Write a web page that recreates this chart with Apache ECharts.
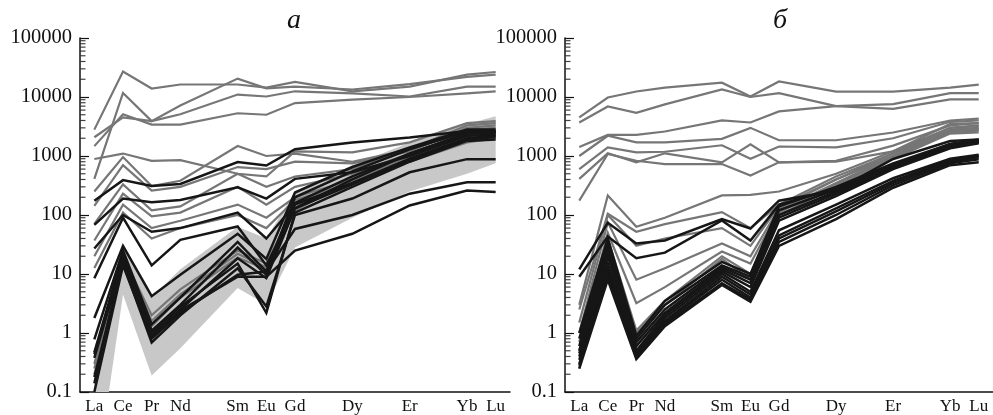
<!DOCTYPE html>
<html>
<head>
<meta charset="utf-8">
<script src="https://cdn.jsdelivr.net/npm/echarts@6/dist/echarts.min.js"></script>
<style>
  html, body { margin: 0; padding: 0; background: #fff; }
  #chart { width: 993px; height: 415px; }
</style>
</head>
<body>
<div id="chart"></div>
<script>
// x slots follow atomic number La..Lu; Pm, Tb, Ho, Tm keep their place but get no label
const slots = ["La", "Ce", "Pr", "Nd", "Pm", "Sm", "Eu", "Gd", "Tb", "Dy", "Ho", "Er", "Tm", "Yb", "Lu"];
const unlabeled = ["Pm", "Tb", "Ho", "Tm"];
const elements = ["La", "Ce", "Pr", "Nd", "Sm", "Eu", "Gd", "Dy", "Er", "Yb", "Lu"];
const panelTitles = ["а", "б"];
const minorSteps = [2, 3, 4, 5, 6, 7, 8, 9];
const decades = [0.1, 1, 10, 100, 1000, 10000];

// panel а — grey samples (La Ce Pr Nd Sm Eu Gd Dy Er Yb Lu)
const aGrey = [
  [2800, 27000, 13900, 16300, 16300, 14400, 18000, 12500, 15000, 24000, 26500],
  [410, 11700, 3900, 7200, 20500, 14000, 15000, 13400, 16500, 22000, 24000],
  [2080, 4500, 3900, 5100, 11000, 10200, 12500, 11500, 10200, 15000, 15000],
  [1470, 5100, 3400, 3400, 5300, 5000, 7900, 9000, 10000, 11500, 12500],
  [890, 1100, 830, 850, 500, 450, 1200, 1150, 1700, 3600, 3900],
  [250, 960, 310, 380, 1480, 1000, 1100, 800, 1300, 3300, 3600],
  [143, 700, 260, 300, 650, 600, 800, 750, 1200, 3000, 3300],
  [71, 330, 120, 140, 500, 300, 450, 600, 1300, 2800, 3000],
  [37, 230, 95, 110, 300, 150, 300, 500, 1100, 2500, 2700],
  [20, 150, 60, 80, 150, 90, 200, 400, 900, 2000, 2300],
  [12.6, 110, 40, 60, 100, 60, 180, 350, 800, 1700, 2000],
  [0.3, 20, 2.0, 5.5, 25, 15, 150, 450, 1100, 2400, 2600],
  [0.25, 18, 1.6, 4.5, 22, 13, 130, 400, 1000, 2300, 2500],
  [0.2, 15, 1.3, 4, 19, 12, 120, 380, 950, 2100, 2400]
];
// panel а — black samples
const aBlack = [
  [175, 390, 310, 335, 790, 690, 1300, 1700, 2050, 2650, 2650],
  [68, 190, 165, 180, 295, 190, 410, 530, 1000, 2200, 2300],
  [27, 100, 52, 60, 110, 40, 150, 350, 900, 2000, 2200],
  [8.5, 90, 14, 38, 64, 14, 130, 400, 1100, 2400, 2500],
  [1.8, 30, 4.2, 9.7, 48, 18, 240, 650, 1400, 2800, 2800],
  [0.78, 25, 1.4, 4, 35, 11, 200, 550, 1300, 2600, 2600],
  [0.47, 22, 1.1, 3, 28, 9.7, 160, 450, 1100, 2400, 2500],
  [0.38, 18, 0.9, 2.5, 18.5, 8.5, 130, 330, 850, 1900, 2100],
  [0.18, 15, 0.69, 2, 12.5, 2.8, 100, 190, 530, 885, 885],
  [0.1, 14, 0.8, 2.2, 9.7, 11, 58, 100, 230, 360, 360],
  [0.14, 20, 1.0, 2.8, 15, 2.2, 110, 300, 800, 1800, 1900],
  [0.44, 17, 0.85, 2.4, 9, 9, 25, 48, 145, 260, 245]
];
// panel а — shaded field, upper and lower edge
const aFieldTop = [0.2, 30, 4, 12, 63, 40, 250, 700, 1700, 3500, 4700];
const aFieldBottom = [0.002, 4.5, 0.19, 0.55, 5.8, 3, 28, 90, 250, 500, 750];

// panel б — grey samples
const bGrey = [
  [4500, 9800, 12400, 14400, 17500, 10200, 18300, 12300, 12300, 14400, 16200],
  [3700, 6900, 5400, 7500, 13400, 10000, 11600, 7000, 6300, 9100, 9100],
  [1420, 2280, 2280, 2600, 4000, 3700, 5700, 7000, 7600, 11600, 11600],
  [1000, 2200, 1700, 1700, 1950, 3000, 1850, 1850, 2500, 4000, 4300],
  [600, 1400, 1150, 1180, 1520, 900, 1450, 1400, 2000, 3800, 4000],
  [410, 1110, 780, 1110, 780, 1580, 780, 830, 1500, 3300, 3600],
  [175, 1080, 830, 730, 730, 465, 780, 800, 1200, 3000, 3300],
  [3, 215, 63, 90, 215, 220, 250, 500, 1200, 3500, 3600],
  [2.5, 105, 52, 70, 112, 60, 150, 450, 1100, 3000, 3200],
  [1.5, 100, 30, 40, 60, 30, 140, 400, 1000, 2800, 3000],
  [1.0, 75, 8, 12.5, 33, 20, 130, 400, 1100, 2700, 2900],
  [0.7, 50, 3.2, 6, 24, 15, 120, 350, 1000, 2600, 2800],
  [0.5, 40, 1.1, 3.5, 20, 10, 110, 330, 950, 2500, 2700],
  [0.25, 30, 1.0, 3, 18, 8, 100, 300, 900, 2400, 2500]
];
// panel б — black samples
const bBlack = [
  [12, 74, 33, 37, 85, 59, 175, 260, 890, 1800, 1900],
  [9, 43, 18.5, 23, 81, 37, 150, 280, 700, 1600, 1800],
  [1.0, 40, 0.9, 3.5, 16, 10, 140, 300, 750, 1600, 1900],
  [0.8, 35, 0.8, 3, 14, 9, 120, 270, 700, 1500, 1800],
  [0.6, 30, 0.7, 2.5, 13, 8, 100, 250, 650, 1450, 1750],
  [0.5, 25, 0.6, 2.2, 12, 7, 90, 230, 620, 1400, 1700],
  [0.4, 20, 0.5, 2, 11, 6, 80, 210, 600, 1350, 1650],
  [0.45, 15, 0.45, 1.8, 10, 5, 55, 150, 420, 900, 1050],
  [0.35, 12, 0.42, 1.6, 9, 4.5, 45, 130, 380, 850, 1000],
  [0.3, 10, 0.4, 1.5, 8, 4, 40, 115, 350, 800, 950],
  [0.28, 9, 0.38, 1.4, 7, 3.7, 35, 100, 320, 750, 880],
  [0.25, 8, 0.36, 1.3, 6.5, 3.4, 30, 85, 290, 700, 780]
];

const FONT = '"Liberation Serif", "DejaVu Serif", serif';
const pos = elements.map(e => slots.indexOf(e));
const minorTicks = [];
decades.forEach(d => minorSteps.forEach(s => minorTicks.push(+(d * s).toPrecision(3))));

function lines(rows, color, width, g, z) {
  return rows.map(r => ({
    type: "line",
    xAxisIndex: g,
    yAxisIndex: g,
    data: r.map((v, i) => [pos[i], v]),
    symbol: "none",
    silent: true,
    z: z,
    lineStyle: { color: color, width: width, join: "miter" }
  }));
}

function field(top, bottom, g) {
  return {
    type: "custom",
    xAxisIndex: g,
    yAxisIndex: g,
    clip: true,
    silent: true,
    z: 1,
    data: [[0, 1]],
    renderItem: function (params, api) {
      const up = top.map((v, i) => api.coord([pos[i], v]));
      const down = bottom.map((v, i) => api.coord([pos[i], v])).reverse();
      return {
        type: "polygon",
        shape: { points: up.concat(down) },
        style: { fill: "#c8c8c8" }
      };
    }
  };
}

function minorTickSeries(g) {
  return {
    type: "scatter",
    xAxisIndex: g + 2,
    yAxisIndex: g,
    data: minorTicks.map(v => [0, v]),
    symbol: "rect",
    symbolSize: [5, 1.2],
    symbolOffset: [3, 0],
    silent: true,
    z: 6,
    itemStyle: { color: "#111" }
  };
}

const grids = [
  { left: 80, top: 38, width: 430, height: 356 },
  { left: 565, top: 38, width: 430, height: 356 }
];

const catAxis = g => ({
  type: "category",
  gridIndex: g,
  data: slots,
  boundaryGap: true,
  axisLine: { onZero: false, lineStyle: { color: "#111", width: 1.5 } },
  axisTick: { inside: true, length: 7, interval: 0, lineStyle: { color: "#111", width: 1.2 } },
  axisLabel: {
    interval: 0,
    margin: 6,
    color: "#111",
    fontFamily: FONT,
    fontSize: 17,
    formatter: v => (unlabeled.includes(v) ? "" : v)
  },
  splitLine: { show: false }
});

const tickAxis = g => ({ type: "value", gridIndex: g, min: 0, max: 1, show: false });

const logAxis = g => ({
  type: "log",
  logBase: 10,
  gridIndex: g,
  min: 0.1,
  max: 100000,
  splitNumber: 6,
  axisLine: { show: true, onZero: false, lineStyle: { color: "#111", width: 1.5 } },
  axisTick: { inside: true, length: 9, lineStyle: { color: "#111", width: 1.2 } },
  axisLabel: {
    margin: 8,
    color: "#111",
    fontFamily: FONT,
    fontSize: 20.5,
    formatter: v => (v >= 1 ? Math.round(v).toString() : String(+v.toPrecision(2)))
  },
  splitLine: { show: false }
});

const chart = echarts.init(document.getElementById("chart"), null, { renderer: "canvas" });
chart.setOption({
  animation: false,
  backgroundColor: "#fff",
  grid: grids,
  xAxis: [catAxis(0), catAxis(1), tickAxis(0), tickAxis(1)],
  yAxis: [logAxis(0), logAxis(1)],
  graphic: [
    { type: "text", x: 294, y: 21, style: { text: panelTitles[0], font: "italic 28px " + FONT, fill: "#111", textAlign: "center", textVerticalAlign: "middle" } },
    { type: "text", x: 780, y: 21, style: { text: panelTitles[1], font: "italic 28px " + FONT, fill: "#111", textAlign: "center", textVerticalAlign: "middle" } }
  ],
  series: [
    field(aFieldTop, aFieldBottom, 0),
    ...lines(aGrey, "#767676", 2.2, 0, 2),
    ...lines(aBlack, "#161616", 2.5, 0, 3),
    ...lines(bGrey, "#767676", 2.2, 1, 2),
    ...lines(bBlack, "#161616", 2.5, 1, 3),
    minorTickSeries(0),
    minorTickSeries(1)
  ]
});
</script>
</body>
</html>
